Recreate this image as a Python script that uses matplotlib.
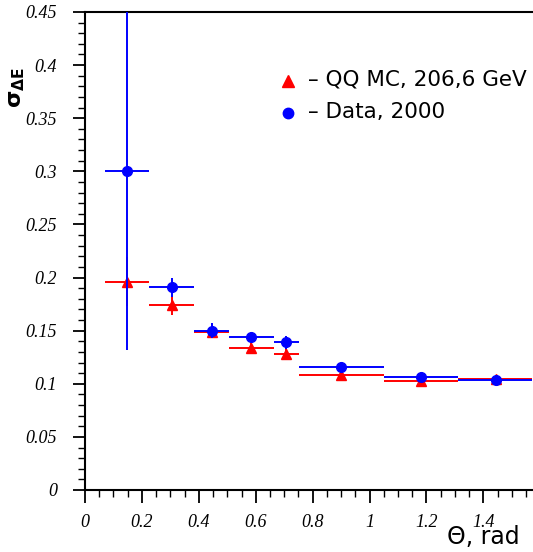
import numpy as np
import matplotlib
matplotlib.use("Agg")
import matplotlib.pyplot as plt
from matplotlib.ticker import MultipleLocator, FixedFormatter, FixedLocator

# Data
bin_lo = [0.069, 0.226, 0.384, 0.506, 0.664, 0.752, 1.05, 1.312]
bin_hi = [0.226, 0.384, 0.506, 0.664, 0.752, 1.05, 1.312, 1.5708]
theta = [0.146, 0.305, 0.446, 0.585, 0.708, 0.90, 1.181, 1.444]
mc_sigma = [0.196, 0.174, 0.149, 0.134, 0.128, 0.108, 0.103, 0.1045]
mc_err = [0.023, 0.009, 0.006, 0.004, 0.006, 0.003, 0.002, 0.002]
data_sigma = [0.300, 0.191, 0.150, 0.1437, 0.139, 0.1158, 0.1067, 0.1035]
data_err = [0.168, 0.009, 0.007, 0.004, 0.006, 0.003, 0.002, 0.002]
xticks = [0, 0.2, 0.4, 0.6, 0.8, 1, 1.2, 1.4]
xticklabels = ["0", "0.2", "0.4", "0.6", "0.8", "1", "1.2", "1.4"]
yticks = [0, 0.05, 0.1, 0.15, 0.2, 0.25, 0.3, 0.35, 0.4, 0.45]
yticklabels = ["0", "0.05", "0.1", "0.15", "0.2", "0.25", "0.3", "0.35", "0.4", "0.45"]

theta = np.array(theta)
xl = theta - np.array(bin_lo)
xh = np.array(bin_hi) - theta

fig = plt.figure(figsize=(5.33, 5.52), dpi=100)
ax = fig.add_axes([85/533, 62/552, 447/533, 478/552])

ax.errorbar(theta, mc_sigma, yerr=mc_err, xerr=[xl, xh], fmt='^', color='#ff0000',
            ms=7.5, elinewidth=1.4, capsize=0, mec='#ff0000', zorder=3)
ax.errorbar(theta, data_sigma, yerr=data_err, xerr=[xl, xh], fmt='o', color='#0000ff',
            ms=7, elinewidth=1.4, capsize=0, mec='#0000ff', zorder=4, alpha=1)

ax.set_xlim(0, np.pi/2)
ax.set_ylim(0, 0.45)
ax.xaxis.set_major_locator(FixedLocator(xticks))
ax.xaxis.set_major_formatter(FixedFormatter(xticklabels))
ax.xaxis.set_minor_locator(MultipleLocator(0.05))
ax.yaxis.set_major_locator(FixedLocator(yticks))
ax.yaxis.set_major_formatter(FixedFormatter(yticklabels))
ax.yaxis.set_minor_locator(MultipleLocator(0.01))

ax.spines['right'].set_visible(False)
for s in ['left', 'bottom', 'top']:
    ax.spines[s].set_linewidth(1.5)
ax.tick_params(which='major', direction='out', length=9, width=1.3)
ax.tick_params(which='minor', direction='out', length=5, width=1.0)
ax.tick_params(axis='x', which='major', pad=8)
ax.tick_params(axis='y', which='major', pad=11)
for lab in ax.get_xticklabels() + ax.get_yticklabels():
    lab.set_fontfamily('Liberation Serif')
    lab.set_fontstyle('italic')
    lab.set_fontsize(13)

# Legend (custom)
ax.plot([0.715], [0.385], marker='^', color='#ff0000', ms=8, ls='none', clip_on=False)
ax.plot([0.715], [0.355], marker='o', color='#0000ff', ms=7.5, ls='none', clip_on=False)
fig.text(308/533, 1 - 80/552, "– QQ MC, 206,6 GeV", fontsize=15.5, va='center', ha='left',
         family='DejaVu Sans')
fig.text(308/533, 1 - 112/552, "– Data, 2000", fontsize=15.5, va='center', ha='left',
         family='DejaVu Sans')

# Axis labels
fig.text(520/533, 1 - 537/552, "Θ, rad", fontsize=17, ha='right', va='center',
         family='DejaVu Sans')
fig.text(17/533, 1 - 88/552, r"$\mathbf{\sigma_{\Delta E}}$", fontsize=16, rotation=90,
         ha='center', va='center')

fig.savefig("out.png", dpi=100)
